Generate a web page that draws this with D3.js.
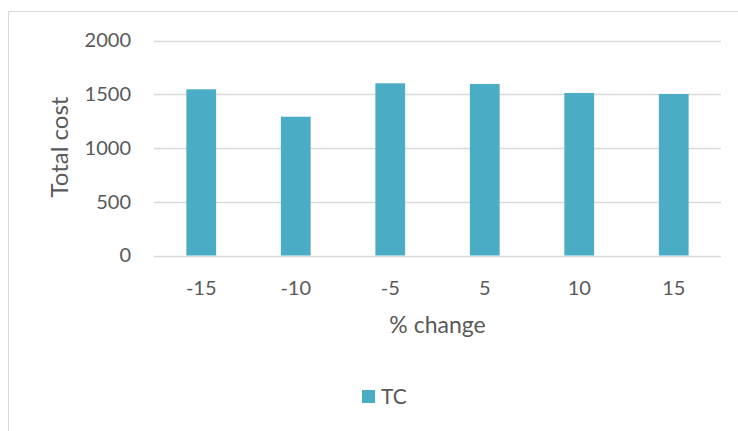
<!DOCTYPE html>
<html>
<head>
<meta charset="utf-8">
<script src="https://cdn.jsdelivr.net/npm/d3@7"></script>
<style>
  html, body { margin: 0; padding: 0; background: #fff; }
  svg { display: block; }
  text { font-family: Lato, "Open Sans", sans-serif; fill: #595959; }
</style>
</head>
<body>
<svg id="chart" width="738" height="431"></svg>
<script>
const categories = ["-15", "-10", "-5", "5", "10", "15"];
const tcValues = [1546, 1291, 1602, 1595, 1512, 1502];
const yTicks = [0, 500, 1000, 1500, 2000];
const seriesName = "TC";

const svg = d3.select("#chart");
const W = 738, H = 431;
const plot = { left: 154, right: 721, top: 40.5, bottom: 255.5 };
const barColor = "#4bacc6";
const fontStack = "Lato, 'Open Sans', sans-serif";

// chart area border
svg.append("rect")
  .attr("x", 8.5).attr("y", 11.5)
  .attr("width", W + 10).attr("height", H + 10)
  .attr("fill", "#fff").attr("stroke", "#d9d9d9").attr("stroke-width", 1);

const x = d3.scaleBand()
  .domain(categories)
  .range([plot.left, plot.right])
  .paddingInner(0.685)
  .paddingOuter(0.3425);

const y = d3.scaleLinear()
  .domain([0, 2000])
  .range([plot.bottom, plot.top]);

// horizontal gridlines
svg.append("g")
  .selectAll("line")
  .data(yTicks)
  .join("line")
  .attr("x1", plot.left).attr("x2", plot.right)
  .attr("y1", d => Math.round(y(d)) + 0.5)
  .attr("y2", d => Math.round(y(d)) + 0.5)
  .attr("stroke", "#d9d9d9").attr("stroke-width", 1.3);

// y axis tick labels
const yAxis = d3.axisLeft(y).tickValues(yTicks).tickFormat(d3.format("d"))
  .tickSize(0).tickPadding(0);
const gy = svg.append("g").attr("transform", `translate(131,0)`).call(yAxis);
gy.select(".domain").remove();
gy.selectAll("text").attr("font-size", 20).attr("fill", "#595959")
  .style("font-family", fontStack);

// bars
svg.append("g")
  .selectAll("rect")
  .data(categories.map((c, i) => ({ c, v: tcValues[i] })))
  .join("rect")
  .attr("x", d => x(d.c))
  .attr("width", x.bandwidth())
  .attr("y", d => y(d.v))
  .attr("height", d => y(0) - y(d.v))
  .attr("fill", barColor);

// x axis tick labels
const xAxis = d3.axisBottom(x).tickSize(0).tickPadding(0);
const gx = svg.append("g").attr("transform", `translate(0,${plot.bottom + 25})`).call(xAxis);
gx.select(".domain").remove();
gx.selectAll("text").attr("font-size", 20).attr("fill", "#595959")
  .style("font-family", fontStack);

// axis titles
svg.append("text")
  .attr("transform", `translate(68,147) rotate(-90)`)
  .attr("text-anchor", "middle")
  .attr("font-size", 24)
  .text("Total cost");

svg.append("text")
  .attr("x", (plot.left + plot.right) / 2)
  .attr("y", 333)
  .attr("text-anchor", "middle")
  .attr("font-size", 23)
  .text("% change");

// legend
const lg = svg.append("g").attr("transform", "translate(362,390)");
lg.append("rect").attr("width", 13).attr("height", 13).attr("fill", barColor);
lg.append("text").attr("x", 19).attr("y", 14).attr("font-size", 21).text(seriesName);
</script>
</body>
</html>
